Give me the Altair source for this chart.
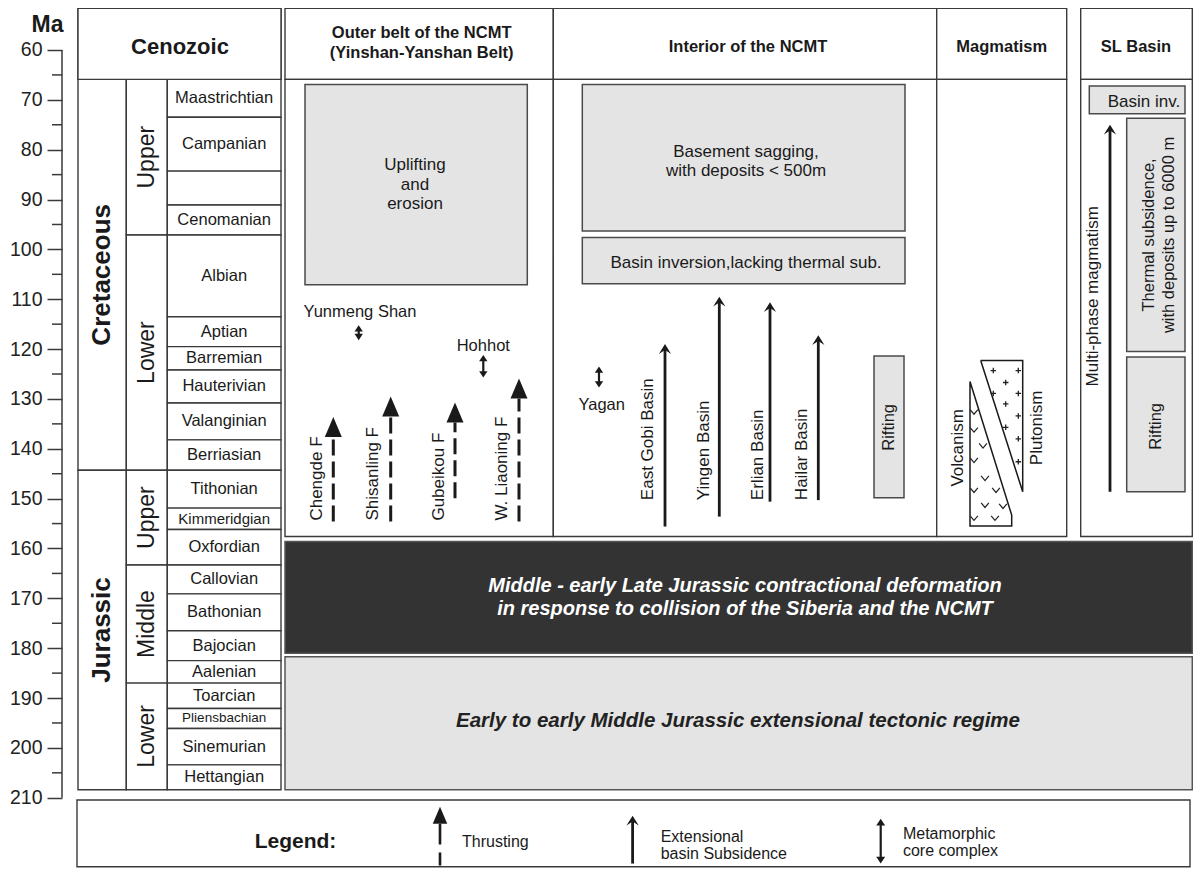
import altair as alt
import pandas as pd

FONT = "Liberation Sans"
INK = "#1a1a1a"
LINE = "#3a3a3a"
GREY = "#e4e4e4"
DARK = "#333333"

# ---------------- geological time scale (ages in Ma) ----------------
periods = ["Cretaceous", "Jurassic"]
period_top = [65.9, 144.3]
period_base = [144.3, 208.4]

epochs = ["Upper", "Lower", "Upper", "Middle", "Lower"]
epoch_top = [65.9, 97.1, 144.3, 163.3, 187.0]
epoch_base = [97.1, 144.3, 163.3, 187.0, 208.4]

stages = ["Maastrichtian", "Campanian", "", "Cenomanian", "Albian", "Aptian",
          "Barremian", "Hauterivian", "Valanginian", "Berriasian", "Tithonian",
          "Kimmeridgian", "Oxfordian", "Callovian", "Bathonian", "Bajocian",
          "Aalenian", "Toarcian", "Pliensbachian", "Sinemurian", "Hettangian"]
stage_top = [65.9, 73.5, 84.3, 91.1, 97.1, 113.5, 119.5, 124.2, 130.8, 138.2,
             144.3, 151.9, 156.2, 163.3, 169.1, 176.5, 182.5, 187.0, 192.1,
             196.1, 203.4]
stage_base = [73.5, 84.3, 91.1, 97.1, 113.5, 119.5, 124.2, 130.8, 138.2, 144.3,
              151.9, 156.2, 163.3, 169.1, 176.5, 182.5, 187.0, 192.1, 196.1,
              203.4, 208.4]

axis_ticks = [60, 70, 80, 90, 100, 110, 120, 130, 140, 150, 160, 170, 180, 190, 200, 210]
minor_ticks = [65, 75, 85, 95, 105, 115, 125, 135, 145, 155, 165, 175, 185, 195, 205]

# ---------------- columns ----------------
panel_titles = ["Cenozoic", "Outer belt of the NCMT\n(Yinshan-Yanshan Belt)",
                "Interior of the NCMT", "Magmatism", "SL Basin"]
header_top = 51.65
header_base = 65.9
panel_base = 157.6

# ---------------- tectonic events (ages in Ma) ----------------
thrust_names = ["Chengde F", "Shisanling F", "Gubeikou F", "W. Liaoning F"]
thrust_tip = [133.6, 129.5, 130.7, 125.9]
thrust_base = [154.6, 154.6, 149.9, 154.6]

basin_names = ["East Gobi Basin", "Yingen Basin", "Erlian Basin", "Hailar Basin"]
basin_tip = [119.0, 109.5, 110.6, 117.2]
basin_base = [155.6, 153.6, 150.6, 150.3]

mcc_names = ["Yunmeng Shan", "Hohhot", "Yagan"]
mcc_top = [115.2, 121.2, 123.5]
mcc_base = [118.2, 125.7, 127.7]

box_labels = ["Uplifting\nand\nerosion", "Basement sagging,\nwith deposits < 500m",
              "Basin inversion,lacking thermal sub.", "Rifting", "Basin inv.",
              "Thermal subsidence,\nwith deposits up to 6000 m", "Rifting"]
box_top = [66.9, 66.9, 97.6, 121.4, 67.2, 73.7, 121.6]
box_base = [107.1, 96.3, 106.9, 149.8, 72.8, 120.5, 148.6]

magmatism_label = "Multi-phase  magmatism"
magmatism_top = 75.0
magmatism_base = 148.6

volcanism_ages = [126.5, 153.3, 155.5, 155.5, 126.5]
plutonism_ages = [122.3, 122.3, 148.6, 122.3]
volcanic_marks = [132.6, 136.2, 139.4, 142.3, 145.9, 148.3, 148.3, 151.3, 151.5, 153.9, 153.9]
plutonic_marks = [124.3, 124.3, 126.7, 128.9, 128.9, 131.0, 133.4, 135.7, 138.0, 142.6]

regime_labels = ["Middle - early Late Jurassic contractional deformation\nin response to collision of the Siberia and the NCMT",
                 "Early to early Middle Jurassic extensional tectonic regime"]
regime_top = [158.6, 181.7]
regime_base = [181.0, 208.4]

legend_labels = ["Thrusting", "Extensional\nbasin Subsidence", "Metamorphic\ncore complex"]

# ---------------- layout (x in px units of the drawing) ----------------
STRAT = [78, 126.3, 167.3, 281]
PANEL_X0 = [78, 285, 553.3, 936.7, 1080.7]
PANEL_X1 = [281, 553.3, 936.7, 1066.7, 1192.3]
TITLE_X = [180, 421.7, 748, 1001.7, 1136]
TITLE_Y = [59.4, 58.5, 59.3, 59.3, 59.3]
BOX_X0 = [305, 582.3, 582.3, 874, 1089.3, 1126.7, 1126.7]
BOX_X1 = [527.3, 905, 905, 904, 1185, 1185, 1185]
BOX_TX = [415, 746, 746, 889, 1144, 1159, 1155.8]
BOX_TY = [87.0, 82.4, 102.7, 135.7, 70.4, 97.1, 135.5]
BOX_ANGLE = [0, 0, 0, 270, 0, 270, 270]
THRUST_X = [333.3, 390.7, 455, 519]
THRUST_LX = [316.7, 373.3, 439.3, 501.7]
BASIN_X = [665, 719.3, 770, 818.3]
BASIN_LX = [648.3, 704, 758.3, 801.7]
MCC_X = [358.7, 483.3, 599]
MCC_LX = [360, 483.3, 601.7]
MCC_LY = [112.5, 119.4, 131.2]
MAG_X, MAG_LX, MAG_LY = 1110, 1093.3, 127.5
VOLC_X = [970, 1011.7, 1011.7, 970, 970]
PLUT_X = [980.7, 1022.7, 1022.7, 980.7]
VMARK_X = [974, 974, 983, 974, 985, 996, 974, 985, 1003, 974, 995]
PMARK_X = [993.3, 1018.3, 1005.7, 993.3, 1018.3, 1005.7, 1018.3, 1005.7, 1018.3, 1018.3]
REGIME_X = [285, 1192.3]
REGIME_TX = [745, 738]
REGIME_TY = [169.8, 194.7]

X_DOMAIN = [62, 1193]
W, H = 1131, 860
Y_DOMAIN = [51.575, 51.575 + 860 / 4.985]
PX = H / (Y_DOMAIN[1] - Y_DOMAIN[0])  # px per Ma

# legend rows (Ma positions below the time scale)
LEG_BOX = (77, 1190, 210.45, 223.85)
LEG_TITLE = (295.5, 218.8)
LEG_SYM_X = [440, 632.6, 880.7]
LEG_SYM_TOP = [211.8, 213.6, 214.2]
LEG_SYM_BASE = [223.6, 223.2, 223.2]
LEG_LX = [462, 660.7, 902.9]
LEG_LY = [218.8, 219.55, 218.9]

XS = alt.Scale(domain=X_DOMAIN, nice=False, zero=False)
YS = alt.Scale(domain=Y_DOMAIN, reverse=True, nice=False, zero=False)
YAX = alt.Axis(values=axis_ticks, domain=False, grid=False, tickSize=15, tickWidth=1.5,
               tickColor=LINE, labelFont=FONT, labelFontSize=19.5, labelColor="#222",
               labelPadding=5, title="Ma", titleAngle=0, titleX=-15, titleY=16,
               titleAlign="center", titleBaseline="middle", titleFont=FONT,
               titleFontSize=23, titleFontWeight="bold", titleColor=INK)


def X(f):
    return alt.X(f, type="quantitative", scale=XS, axis=None)


def Y(f):
    return alt.Y(f, type="quantitative", scale=YS, axis=YAX)


def rect_layer(df, **kw):
    return alt.Chart(df).mark_rect(**kw).encode(
        x=X("x0"), x2=alt.X2("x1"), y=Y("top"), y2=alt.Y2("base"))


def text_layer(df, **kw):
    base = dict(font=FONT, color=INK, align="center", baseline="middle", lineBreak="\n")
    base.update(kw)
    df = df.copy()
    # Vega puts the first line at the anchor: move the anchor so the block is centred
    lh = base.get("lineHeight", base.get("fontSize", 16) * 1.2)
    nl = df["label"].astype(str).str.count("\n")
    if base.get("angle", 0) == 270:
        df["x"] = df["x"] - nl * lh / 2
    else:
        df["y"] = df["y"] - nl * lh / 2 / PX
    enc = dict(x=X("x"), y=Y("y"), text=alt.Text("label:N"))
    if "fs" in df.columns:
        enc["size"] = alt.Size("fs:Q", scale=None, legend=None)
    return alt.Chart(df).mark_text(**base).encode(**enc)


def vrule(df, **kw):
    return alt.Chart(df).mark_rule(**kw).encode(x=X("x"), y=Y("y0"), y2=alt.Y2("y1"))


def heads(df, shape, size, filled=True, **kw):
    if filled:
        kw = dict(dict(color=INK, strokeWidth=0), **kw)
    return alt.Chart(df).mark_point(shape=shape, size=size, filled=filled, opacity=1,
                                    **kw).encode(x=X("x"), y=Y("y"))


UP_BIG = "M0,0L0.85,2L-0.85,2Z"           # thrust arrow head (tip at origin)
UP_CHEV = "M0,0L1,1.6L0,0.95L-1,1.6Z"      # extensional arrow head
UP_SMALL = "M0,0L1,1.5L-1,1.5Z"
DOWN_SMALL = "M0,0L1,-1.5L-1,-1.5Z"
VEE = "M-1,-0.6L0,0.6L1,-0.6"
PLUS = "M-1,0L1,0M0,-1L0,1"

layers = []

# ---- stratigraphic column ----
cen = pd.DataFrame({"x0": [STRAT[0]], "x1": [STRAT[3]], "top": [header_top], "base": [header_base]})
dper = pd.DataFrame({"label": periods, "top": period_top, "base": period_base,
                     "x0": STRAT[0], "x1": STRAT[1]})
dep = pd.DataFrame({"label": epochs, "top": epoch_top, "base": epoch_base,
                    "x0": STRAT[1], "x1": STRAT[2]})
dst = pd.DataFrame({"label": stages, "top": stage_top, "base": stage_base,
                    "x0": STRAT[2], "x1": STRAT[3]})
small_font = {"Kimmeridgian": 15, "Pliensbachian": 13.5}
dst["fs"] = [small_font.get(s, 16.5) for s in stages]
for d in (dper, dep, dst):
    d["x"] = (d["x0"] + d["x1"]) / 2
    d["y"] = (d["top"] + d["base"]) / 2

# ---- panels ----
dhead = pd.DataFrame({"x0": PANEL_X0, "x1": PANEL_X1, "top": header_top, "base": header_base})
dbody = pd.DataFrame({"x0": PANEL_X0[1:], "x1": PANEL_X1[1:], "top": header_base, "base": panel_base})
dtitle = pd.DataFrame({"label": panel_titles, "x": TITLE_X, "y": TITLE_Y})

for d in (cen, dper, dep, dst, dhead, dbody):
    layers.append(rect_layer(d, fill="white", stroke=LINE, strokeWidth=1.4))

layers.append(text_layer(dtitle.iloc[:1], fontSize=22, fontWeight="bold"))
layers.append(text_layer(dtitle.iloc[1:], fontSize=16.5, fontWeight="bold", lineHeight=20))
layers.append(text_layer(dper, fontSize=26, fontWeight="bold", angle=270))
layers.append(text_layer(dep, fontSize=23, angle=270))
layers.append(text_layer(dst, fontSize=16.5))

# ---- grey boxes ----
dbox = pd.DataFrame({"label": box_labels, "top": box_top, "base": box_base,
                     "x0": BOX_X0, "x1": BOX_X1, "x": BOX_TX, "y": BOX_TY, "angle": BOX_ANGLE})
layers.append(rect_layer(dbox, fill=GREY, stroke="#4a4a4a", strokeWidth=1.5))
layers.append(text_layer(dbox[dbox.angle == 0], fontSize=17, lineHeight=19.5))
layers.append(text_layer(dbox[dbox.angle == 270], fontSize=16.5, lineHeight=20, angle=270))

# ---- regimes ----
dreg = pd.DataFrame({"label": regime_labels, "top": regime_top, "base": regime_base,
                     "x0": REGIME_X[0], "x1": REGIME_X[1], "x": REGIME_TX, "y": REGIME_TY})
layers.append(rect_layer(dreg.iloc[:1], fill=DARK, stroke="#555", strokeWidth=1.5))
layers.append(rect_layer(dreg.iloc[1:], fill=GREY, stroke="#555", strokeWidth=1.5))
layers.append(text_layer(dreg.iloc[:1], fontSize=20, fontWeight="bold", fontStyle="italic",
                         color="white", lineHeight=23.5))
layers.append(text_layer(dreg.iloc[1:], fontSize=20.5, fontWeight="bold", fontStyle="italic",
                         color="#222"))

# ---- thrusts ----
dth = pd.DataFrame({"label": thrust_names, "x": THRUST_X, "y": thrust_tip,
                    "y0": thrust_base, "y1": [t + 20 / PX for t in thrust_tip]})
layers.append(vrule(dth, color=INK, strokeWidth=3, strokeDash=[16, 6]))
layers.append(heads(dth, UP_BIG, 400))
layers.append(text_layer(pd.DataFrame({"label": thrust_names, "x": THRUST_LX, "y": 154.4}),
                         fontSize=17, angle=270, align="left"))

# ---- extensional basins ----
dba = pd.DataFrame({"label": basin_names, "x": BASIN_X, "y": basin_tip,
                    "y0": basin_base, "y1": [t + 4 / PX for t in basin_tip]})
layers.append(vrule(dba, color=INK, strokeWidth=2.8))
layers.append(heads(dba, UP_CHEV, 150))
layers.append(text_layer(pd.DataFrame({"label": basin_names, "x": BASIN_LX, "y": 150.3}),
                         fontSize=17, angle=270, align="left"))

# ---- metamorphic core complexes ----
dmc = pd.DataFrame({"label": mcc_names, "x": MCC_X, "y0": mcc_top, "y1": mcc_base})
layers.append(vrule(dmc.assign(y0=[t + 3 / PX for t in mcc_top],
                               y1=[b - 3 / PX for b in mcc_base]), color=INK, strokeWidth=2.2))
layers.append(heads(dmc.assign(y=mcc_top), UP_SMALL, 70))
layers.append(heads(dmc.assign(y=mcc_base), DOWN_SMALL, 70))
layers.append(text_layer(pd.DataFrame({"label": mcc_names, "x": MCC_LX, "y": MCC_LY}), fontSize=16.5))

# ---- magmatism ----
dpoly = pd.DataFrame({
    "shape": ["v"] * len(VOLC_X) + ["p"] * len(PLUT_X),
    "i": list(range(len(VOLC_X))) + list(range(len(PLUT_X))),
    "x": VOLC_X + PLUT_X,
    "y": volcanism_ages + plutonism_ages})
layers.append(alt.Chart(dpoly).mark_line(color=INK, strokeWidth=1.5).encode(
    x=X("x"), y=Y("y"), detail="shape:N", order="i:Q"))
layers.append(heads(pd.DataFrame({"x": VMARK_X, "y": volcanic_marks}), VEE, 60,
                    filled=False, color="#222", strokeWidth=1.2))
layers.append(heads(pd.DataFrame({"x": PMARK_X, "y": plutonic_marks}), PLUS, 30,
                    filled=False, color="#222", strokeWidth=1.3))
layers.append(text_layer(pd.DataFrame({"label": ["Volcanism", "Plutonism"],
                                       "x": [958.3, 1036.7], "y": [139.8, 135.8]}),
                         fontSize=17, angle=270))

# ---- SL basin magmatism arrow ----
dmag = pd.DataFrame({"x": [MAG_X], "y": [magmatism_top], "y0": [magmatism_base],
                     "y1": [magmatism_top + 4 / PX]})
layers.append(vrule(dmag, color=INK, strokeWidth=2.8))
layers.append(heads(dmag, UP_CHEV, 150))
layers.append(text_layer(pd.DataFrame({"label": [magmatism_label], "x": [MAG_LX], "y": [MAG_LY]}),
                         fontSize=17, angle=270, align="left"))

# ---- time axis line and minor ticks ----
layers.append(vrule(pd.DataFrame({"x": [62], "y0": [60], "y1": [210]}), color=LINE, strokeWidth=1.5))
layers.append(alt.Chart(pd.DataFrame({"ma": minor_ticks, "x0": 52, "x1": 62})).mark_rule(
    color=LINE, strokeWidth=1.5).encode(x=X("x0"), x2=alt.X2("x1"), y=Y("ma")))

# ---- legend ----
dlb = pd.DataFrame({"x0": [LEG_BOX[0]], "x1": [LEG_BOX[1]], "top": [LEG_BOX[2]], "base": [LEG_BOX[3]]})
layers.append(rect_layer(dlb, fill="white", stroke=LINE, strokeWidth=1.4))
layers.append(text_layer(pd.DataFrame({"label": ["Legend:"], "x": [LEG_TITLE[0]], "y": [LEG_TITLE[1]]}),
                         fontSize=21, fontWeight="bold"))
layers.append(text_layer(pd.DataFrame({"label": legend_labels, "x": LEG_LX, "y": LEG_LY}),
                         fontSize=16, align="left", lineHeight=17))
lt = pd.DataFrame({"x": [LEG_SYM_X[0]], "y": [LEG_SYM_TOP[0]], "y0": [LEG_SYM_BASE[0]],
                   "y1": [LEG_SYM_TOP[0] + 17 / PX]})
layers.append(vrule(lt, color=INK, strokeWidth=2.6, strokeDash=[13, 8, 40]))
layers.append(heads(lt, UP_BIG, 290))
le = pd.DataFrame({"x": [LEG_SYM_X[1]], "y": [LEG_SYM_TOP[1]], "y0": [LEG_SYM_BASE[1]],
                   "y1": [LEG_SYM_TOP[1] + 4 / PX]})
layers.append(vrule(le, color=INK, strokeWidth=2.8))
layers.append(heads(le, UP_CHEV, 150))
lm = pd.DataFrame({"x": [LEG_SYM_X[2]], "y0": [LEG_SYM_TOP[2] + 3 / PX], "y1": [LEG_SYM_BASE[2] - 3 / PX]})
layers.append(vrule(lm, color=INK, strokeWidth=2.2))
layers.append(heads(pd.DataFrame({"x": [LEG_SYM_X[2]], "y": [LEG_SYM_TOP[2]]}), UP_SMALL, 80))
layers.append(heads(pd.DataFrame({"x": [LEG_SYM_X[2]], "y": [LEG_SYM_BASE[2]]}), DOWN_SMALL, 80))

chart = alt.layer(*layers).properties(
    width=W, height=H,
    padding={"left": 54, "top": 0, "right": 0, "bottom": 0},
    autosize=alt.AutoSizeParams(type="none"),
    background="white",
).configure_view(stroke=None)

chart.save("out.html", embed_options={"renderer": "svg", "actions": False})
